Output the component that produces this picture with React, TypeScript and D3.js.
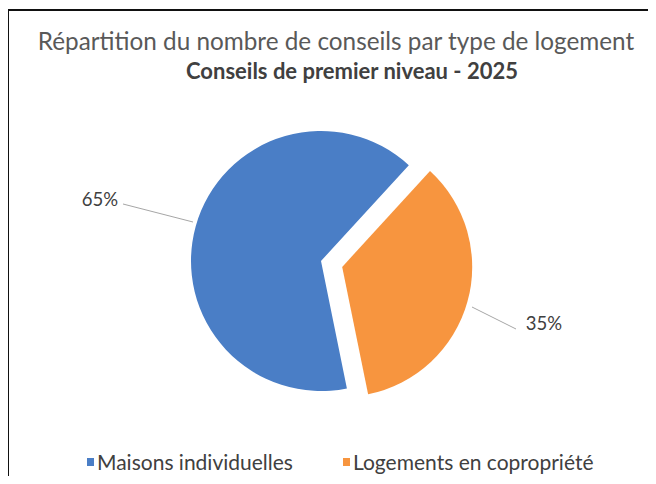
import { useEffect, useRef } from 'react';
import * as d3 from 'd3';

const categories = ['Maisons individuelles', 'Logements en copropriété'];
const values = [65, 35];
const labels = ['65%', '35%'];
const colors = ['#4a7ec6', '#f7953f'];
const title1 = 'Répartition du nombre de conseils par type de logement';
const title2 = 'Conseils de premier niveau - 2025';

const FONT = 'Lato, "Open Sans", sans-serif';

export default function App() {
  const svgRef = useRef<SVGSVGElement>(null);

  useEffect(() => {
    const svg = d3.select(svgRef.current);
    svg.selectAll('*').remove();

    const W = 656, H = 484;
    svg.append('rect').attr('width', W).attr('height', H).attr('fill', '#fff');

    // frame: only top and left edges visible
    svg.append('path')
      .attr('d', `M8,${H + 5} L8,10 L${W + 5},10`)
      .attr('fill', 'none').attr('stroke', '#111').attr('stroke-width', 2);

    svg.append('text').attr('x', 336).attr('y', 50)
      .attr('text-anchor', 'middle').attr('font-family', FONT)
      .attr('font-size', 24.3).attr('fill', '#595959').text(title1);
    svg.append('text').attr('x', 352).attr('y', 79)
      .attr('text-anchor', 'middle').attr('font-family', FONT)
      .attr('font-weight', 'bold')
      .attr('font-size', 22).attr('fill', '#404040').text(title2);

    const cx = 321, cy = 261, r = 130, explode = 22;
    const start = (168.5 * Math.PI) / 180;
    const pie = d3.pie<number>().sort(null).startAngle(start).endAngle(start + 2 * Math.PI);
    const arcs = pie(values);
    const arc = d3.arc<d3.PieArcDatum<number>>().innerRadius(0).outerRadius(r);

    const g = svg.append('g').attr('transform', `translate(${cx},${cy})`);
    g.selectAll('path.slice')
      .data(arcs)
      .enter()
      .append('path')
      .attr('class', 'slice')
      .attr('d', arc)
      .attr('fill', (d, i) => colors[i])
      .attr('transform', (d, i) => {
        if (i !== 1) return null;
        const m = (d.startAngle + d.endAngle) / 2;
        return `translate(${Math.sin(m) * explode},${-Math.cos(m) * explode})`;
      });

    // leader lines and labels
    const leaders = [
      { edge: [193 - cx, 222 - cy], knee: [123 - cx, 204 - cy], tx: 100 - cx, ty: 206 - cy },
      { edge: [472 - cx, 307 - cy], knee: [516 - cx, 329 - cy], tx: 544 - cx, ty: 330 - cy },
    ];
    g.selectAll('path.leader')
      .data(leaders)
      .enter()
      .append('path')
      .attr('class', 'leader')
      .attr('d', d => d3.line()([d.edge as [number, number], d.knee as [number, number]]))
      .attr('stroke', '#a6a6a6').attr('stroke-width', 1).attr('fill', 'none');
    g.selectAll('text.lbl')
      .data(leaders)
      .enter()
      .append('text')
      .attr('class', 'lbl')
      .attr('x', d => d.tx).attr('y', d => d.ty)
      .attr('text-anchor', 'middle').attr('font-family', FONT)
      .attr('font-size', 18.5).attr('fill', '#404040')
      .text((d, i) => labels[i]);

    // legend
    const legendX = [87, 343];
    const lg = svg.append('g');
    categories.forEach((c, i) => {
      lg.append('rect').attr('x', legendX[i]).attr('y', 458)
        .attr('width', 7).attr('height', 8).attr('fill', colors[i]);
      lg.append('text').attr('x', legendX[i] + 10).attr('y', 470)
        .attr('font-family', FONT).attr('font-size', 21).attr('fill', '#404040')
        .text(c);
    });
  }, []);

  return <svg ref={svgRef} width={656} height={484} style={{ display: 'block', margin: -8 }} />;
}
